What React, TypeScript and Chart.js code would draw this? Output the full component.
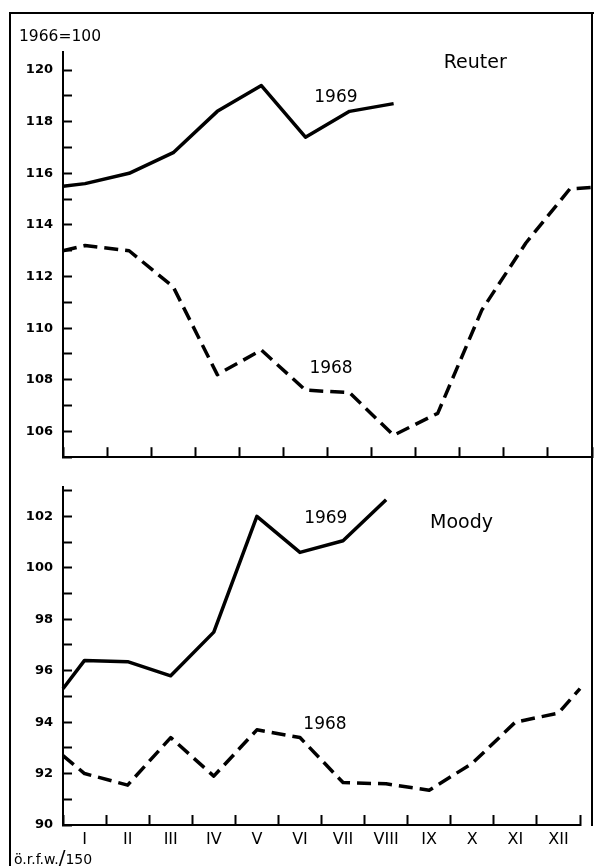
import React, { useEffect, useRef } from 'react';
import { Chart, registerables } from 'chart.js';

Chart.register(...registerables);

// ---------- data ----------
const months = ['I', 'II', 'III', 'IV', 'V', 'VI', 'VII', 'VIII', 'IX', 'X', 'XI', 'XII'];

// Reuter index (1966=100)
const reuter1969Start = 115.5;
const reuter1969 = [115.6, 116.0, 116.8, 118.4, 119.4, 117.4, 118.4, 118.7];
const reuter1968Start = 113.0;
const reuter1968 = [113.2, 113.0, 111.6, 108.2, 109.15, 107.6, 107.5, 105.85, 106.7, 110.7, 113.3, 115.4];
const reuter1968End = 115.45;

// Moody index (1966=100)
const moody1969Start = 95.3;
const moody1969 = [96.4, 96.35, 95.8, 97.5, 102.0, 100.6, 101.05, 102.65];
const moody1968Start = 92.7;
const moody1968 = [92.0, 91.55, 93.4, 91.9, 93.7, 93.4, 91.65, 91.6, 91.35, 92.4, 94.0, 94.35];
const moody1968End = 95.3;

// y-axis ticks (every unit marked, labels on even values)
const reuterYTicks = [105, 106, 107, 108, 109, 110, 111, 112, 113, 114, 115, 116, 117, 118, 119, 120];
const reuterYLabels = [106, 108, 110, 112, 114, 116, 118, 120];
const moodyYTicks = [90, 91, 92, 93, 94, 95, 96, 97, 98, 99, 100, 101, 102, 103];
const moodyYLabels = [90, 92, 94, 96, 98, 100, 102];

// in-chart annotations (data coordinates)
const reuterNotes = [
  { text: '1969', x: 6.19, y: 118.95, size: 17 },
  { text: 'Reuter', x: 9.35, y: 120.27, size: 19 },
  { text: '1968', x: 6.08, y: 108.45, size: 17 },
];
const moodyNotes = [
  { text: '1969', x: 6.1, y: 101.92, size: 17 },
  { text: 'Moody', x: 9.25, y: 101.74, size: 19 },
  { text: '1968', x: 6.08, y: 93.9, size: 17 },
];

// ---------- helpers ----------
const FONT = "'DejaVu Sans', 'Liberation Sans', sans-serif";
Chart.defaults.font.family = FONT;
Chart.defaults.color = '#000';

function toPoints(start: number, values: number[], end?: number) {
  const pts = [{ x: 0, y: start }, ...values.map((v, i) => ({ x: i + 0.5, y: v }))];
  if (end !== undefined) pts.push({ x: months.length, y: end });
  return pts;
}

const xTickValues = months.flatMap((_, i) => [i, i + 0.5]).concat([months.length]);

const notesPlugin = (notes: { text: string; x: number; y: number; size: number }[]) => ({
  id: 'notes',
  afterDatasetsDraw(chart: any) {
    const { ctx, scales } = chart;
    ctx.save();
    ctx.fillStyle = '#000';
    ctx.textAlign = 'center';
    ctx.textBaseline = 'middle';
    notes.forEach((n) => {
      ctx.font = `${n.size}px ${FONT}`;
      ctx.fillText(n.text, scales.x.getPixelForValue(n.x), scales.y.getPixelForValue(n.y));
    });
    ctx.restore();
  },
});

interface PanelProps {
  width: number;
  height: number;
  top: number;
  padTop: number;
  xHeight: number;
  showMonths: boolean;
  yMin: number;
  yMax: number;
  yTicks: number[];
  yLabels: number[];
  s1969: { x: number; y: number }[];
  s1968: { x: number; y: number }[];
  notes: { text: string; x: number; y: number; size: number }[];
}

function Panel(p: PanelProps) {
  const ref = useRef<HTMLCanvasElement | null>(null);
  useEffect(() => {
    if (!ref.current) return;
    const chart = new Chart(ref.current, {
      type: 'line',
      data: {
        datasets: [
          {
            label: '1969',
            data: p.s1969,
            borderColor: '#000',
            borderWidth: 3.5,
            pointRadius: 0,
            tension: 0,
            borderJoinStyle: 'round',
            clip: false as any,
          },
          {
            label: '1968',
            data: p.s1968,
            borderColor: '#000',
            borderWidth: 3.5,
            borderDash: [14, 7],
            pointRadius: 0,
            tension: 0,
            borderJoinStyle: 'round',
            clip: false as any,
          },
        ],
      },
      options: {
        animation: false,
        responsive: false,
        maintainAspectRatio: false,
        layout: { padding: { top: p.padTop, right: 3, left: 0, bottom: 0 } },
        plugins: { legend: { display: false }, tooltip: { enabled: false }, title: { display: false } },
        scales: {
          x: {
            type: 'linear',
            min: 0,
            max: months.length,
            afterBuildTicks: (s: any) => {
              s.ticks = xTickValues.map((v) => ({ value: v }));
            },
            afterFit: (s: any) => {
              s.height = p.xHeight;
            },
            grid: {
              display: true,
              drawOnChartArea: false,
              drawTicks: true,
              tickLength: -10,
              tickWidth: 2,
              tickColor: (ctx: any) =>
                ctx.tick && Number.isInteger(ctx.tick.value) ? '#000' : 'rgba(0,0,0,0)',
            },
            border: { display: true, color: '#000', width: 2 },
            ticks: {
              display: p.showMonths,
              autoSkip: false,
              maxRotation: 0,
              minRotation: 0,
              padding: 15,
              color: '#000',
              font: { size: 16, family: FONT },
              callback: (v: any) => {
                const i = Number(v) - 0.5;
                return Number.isInteger(i) && months[i] ? months[i] : '';
              },
            },
          },
          y: {
            type: 'linear',
            min: p.yMin,
            max: p.yMax,
            afterBuildTicks: (s: any) => {
              s.ticks = p.yTicks.map((v) => ({ value: v }));
            },
            afterFit: (s: any) => {
              s.width = 63;
            },
            grid: {
              display: true,
              drawOnChartArea: false,
              drawTicks: true,
              tickLength: -9,
              tickWidth: 2,
              tickColor: '#000',
            },
            border: { display: true, color: '#000', width: 2 },
            ticks: {
              autoSkip: false,
              padding: 19,
              color: '#000',
              font: { size: 13, weight: 'bold', family: FONT },
              callback: (v: any) => (p.yLabels.includes(Number(v)) ? String(v) : ''),
            },
          },
        },
      } as any,
      plugins: [notesPlugin(p.notes)],
    });
    return () => chart.destroy();
  }, []);
  return (
    <canvas
      ref={ref}
      width={p.width}
      height={p.height}
      style={{ position: 'absolute', left: 0, top: p.top, width: p.width, height: p.height }}
    />
  );
}

const line = (left: number, top: number, width: number, height: number): React.CSSProperties => ({
  position: 'absolute',
  left,
  top,
  width,
  height,
  background: '#000',
});

export default function App() {
  return (
    <div
      style={{
        position: 'absolute',
        left: 0,
        top: 0,
        width: 595,
        height: 866,
        background: '#fff',
        overflow: 'hidden',
        fontFamily: FONT,
        color: '#000',
      }}
    >
      <Panel
        width={595}
        height={484}
        top={0}
        padTop={52}
        xHeight={13}
        showMonths={false}
        yMin={105}
        yMax={120.7}
        yTicks={reuterYTicks}
        yLabels={reuterYLabels}
        s1969={toPoints(reuter1969Start, reuter1969)}
        s1968={toPoints(reuter1968Start, reuter1968, reuter1968End)}
        notes={reuterNotes}
      />
      <Panel
        width={595}
        height={406}
        top={460}
        padTop={25}
        xHeight={41}
        showMonths={true}
        yMin={90}
        yMax={103.15}
        yTicks={moodyYTicks}
        yLabels={moodyYLabels}
        s1969={toPoints(moody1969Start, moody1969)}
        s1968={toPoints(moody1968Start, moody1968, moody1968End)}
        notes={moodyNotes}
      />
      {/* frame */}
      <div style={line(9, 12, 585, 2)} />
      <div style={line(9, 12, 2, 854)} />
      <div style={line(591, 12, 2, 814)} />
      <div
        style={{ position: 'absolute', left: 19, top: 27, fontSize: 15.5, lineHeight: '18px', whiteSpace: 'nowrap' }}
      >
        1966=100
      </div>
      <div
        style={{ position: 'absolute', left: 14, top: 849, fontSize: 14, lineHeight: '16px', whiteSpace: 'nowrap' }}
      >
        ö.r.f.w.<span style={{ fontSize: 20 }}>/</span>150
      </div>
    </div>
  );
}
